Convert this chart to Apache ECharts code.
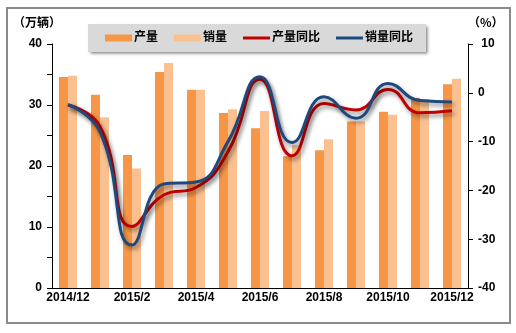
<!DOCTYPE html>
<html><head><meta charset="utf-8">
<script src="https://cdn.jsdelivr.net/npm/echarts@6/dist/echarts.min.js"></script>
<style>html,body{margin:0;padding:0;background:#fff}#c{width:516px;height:333px}</style>
</head><body><div id="c"></div>
<script>
var categories = ['2014/12','2015/1','2015/2','2015/3','2015/4','2015/5','2015/6','2015/7','2015/8','2015/9','2015/10','2015/11','2015/12'];
var production = [34.6, 31.7, 21.8, 35.4, 32.5, 28.7, 26.2, 21.6, 22.6, 27.3, 28.9, 31.2, 33.4];
var sales = [34.8, 28.0, 19.6, 36.9, 32.5, 29.3, 29.0, 23.4, 24.4, 27.3, 28.4, 31.0, 34.3];
var productionYoY = [-2.5, -6.9, -27.4, -20.9, -19.4, -12.1, 2.8, -12.9, -2.2, -3.5, 0.7, -4.1, -3.7];
var salesYoY = [-2.4, -8.0, -31.2, -18.7, -18.3, -10.0, 3.3, -10.2, -0.8, -5.2, 1.9, -1.6, -1.9];
var leftTicks = [0, 10, 20, 30, 40];
var rightTicks = [-40, -30, -20, -10, 0, 10];

var font = '"Liberation Sans", Arial, "Noto Sans CJK SC", sans-serif';
var chart = echarts.init(document.getElementById('c'));
var lineShadow = {shadowColor:'rgba(0,0,0,0.45)', shadowBlur:4, shadowOffsetX:2, shadowOffsetY:3};
var lineIcon = 'path://M0,0L27,0L27,3L0,3Z';
chart.setOption({
  animation:false,
  backgroundColor:'#fff',
  grid:{left:52, right:48, top:44, bottom:45},
  legend:{
    left:88, top:24, padding:[8,13,8,17], itemGap:16, itemWidth:27, itemHeight:7,
    backgroundColor:'#d9d9d9', shadowColor:'rgba(0,0,0,0.5)', shadowBlur:3, shadowOffsetX:2, shadowOffsetY:2,
    textStyle:{fontFamily:font, fontWeight:'bold', fontSize:12, color:'#000', padding:[0,0,0,-3]},
    data:[{name:'产量', icon:'rect'},{name:'销量', icon:'rect'},{name:'产量同比', icon:lineIcon},{name:'销量同比', icon:lineIcon}]
  },
  graphic:[
    {type:'rect', shape:{x:7, y:8, width:503, height:315}, style:{fill:'none', stroke:'#8a8a8a', lineWidth:2}, silent:true},
    {type:'text', left:13, top:16, style:{text:'（万辆）', font:'bold 12px "Noto Sans CJK SC", sans-serif', fill:'#000'}},
    {type:'text', left:468, top:16, style:{text:'（%）', font:'bold 12px "Noto Sans CJK SC", sans-serif', fill:'#000'}}
  ],
  xAxis:{
    type:'category', data:categories, boundaryGap:true,
    axisLine:{lineStyle:{color:'#000', width:1}},
    axisTick:{interval:1, length:5, lineStyle:{color:'#000'}},
    axisLabel:{interval:1, margin:4, fontFamily:font, fontWeight:'bold', fontSize:12, color:'#000'}
  },
  yAxis:[
    {type:'value', min:leftTicks[0], max:leftTicks[leftTicks.length-1], interval:5, splitLine:{show:false},
     axisLine:{show:true, lineStyle:{color:'#000'}}, axisTick:{show:true, length:5, lineStyle:{color:'#000'}},
     axisLabel:{margin:10, fontFamily:font, fontWeight:'bold', fontSize:12, color:'#000',
       formatter:function(v){return leftTicks.indexOf(v)>=0 ? String(v) : '';}}},
    {type:'value', min:rightTicks[0], max:rightTicks[rightTicks.length-1], interval:10, splitLine:{show:false},
     axisLine:{show:true, lineStyle:{color:'#000'}}, axisTick:{show:true, length:5, lineStyle:{color:'#000'}},
     axisLabel:{margin:10, fontFamily:font, fontWeight:'bold', fontSize:12, color:'#000',
       formatter:function(v){return v>0 ? ' '+v : String(v);}}}
  ],
  series:[
    {name:'产量', type:'bar', data:production, barWidth:9, barGap:'0%', itemStyle:{color:'#f79646'}},
    {name:'销量', type:'bar', data:sales, barWidth:9, barGap:'0%', itemStyle:{color:'#fac090'}},
    {name:'产量同比', type:'line', yAxisIndex:1, data:productionYoY, smooth:0.5, symbol:'none', showSymbol:false,
     itemStyle:{color:'#c00000'}, lineStyle:Object.assign({color:'#c00000', width:3}, lineShadow)},
    {name:'销量同比', type:'line', yAxisIndex:1, data:salesYoY, smooth:0.5, symbol:'none', showSymbol:false,
     itemStyle:{color:'#1f497d'}, lineStyle:Object.assign({color:'#1f497d', width:3}, lineShadow)}
  ]
});
</script></body></html>
